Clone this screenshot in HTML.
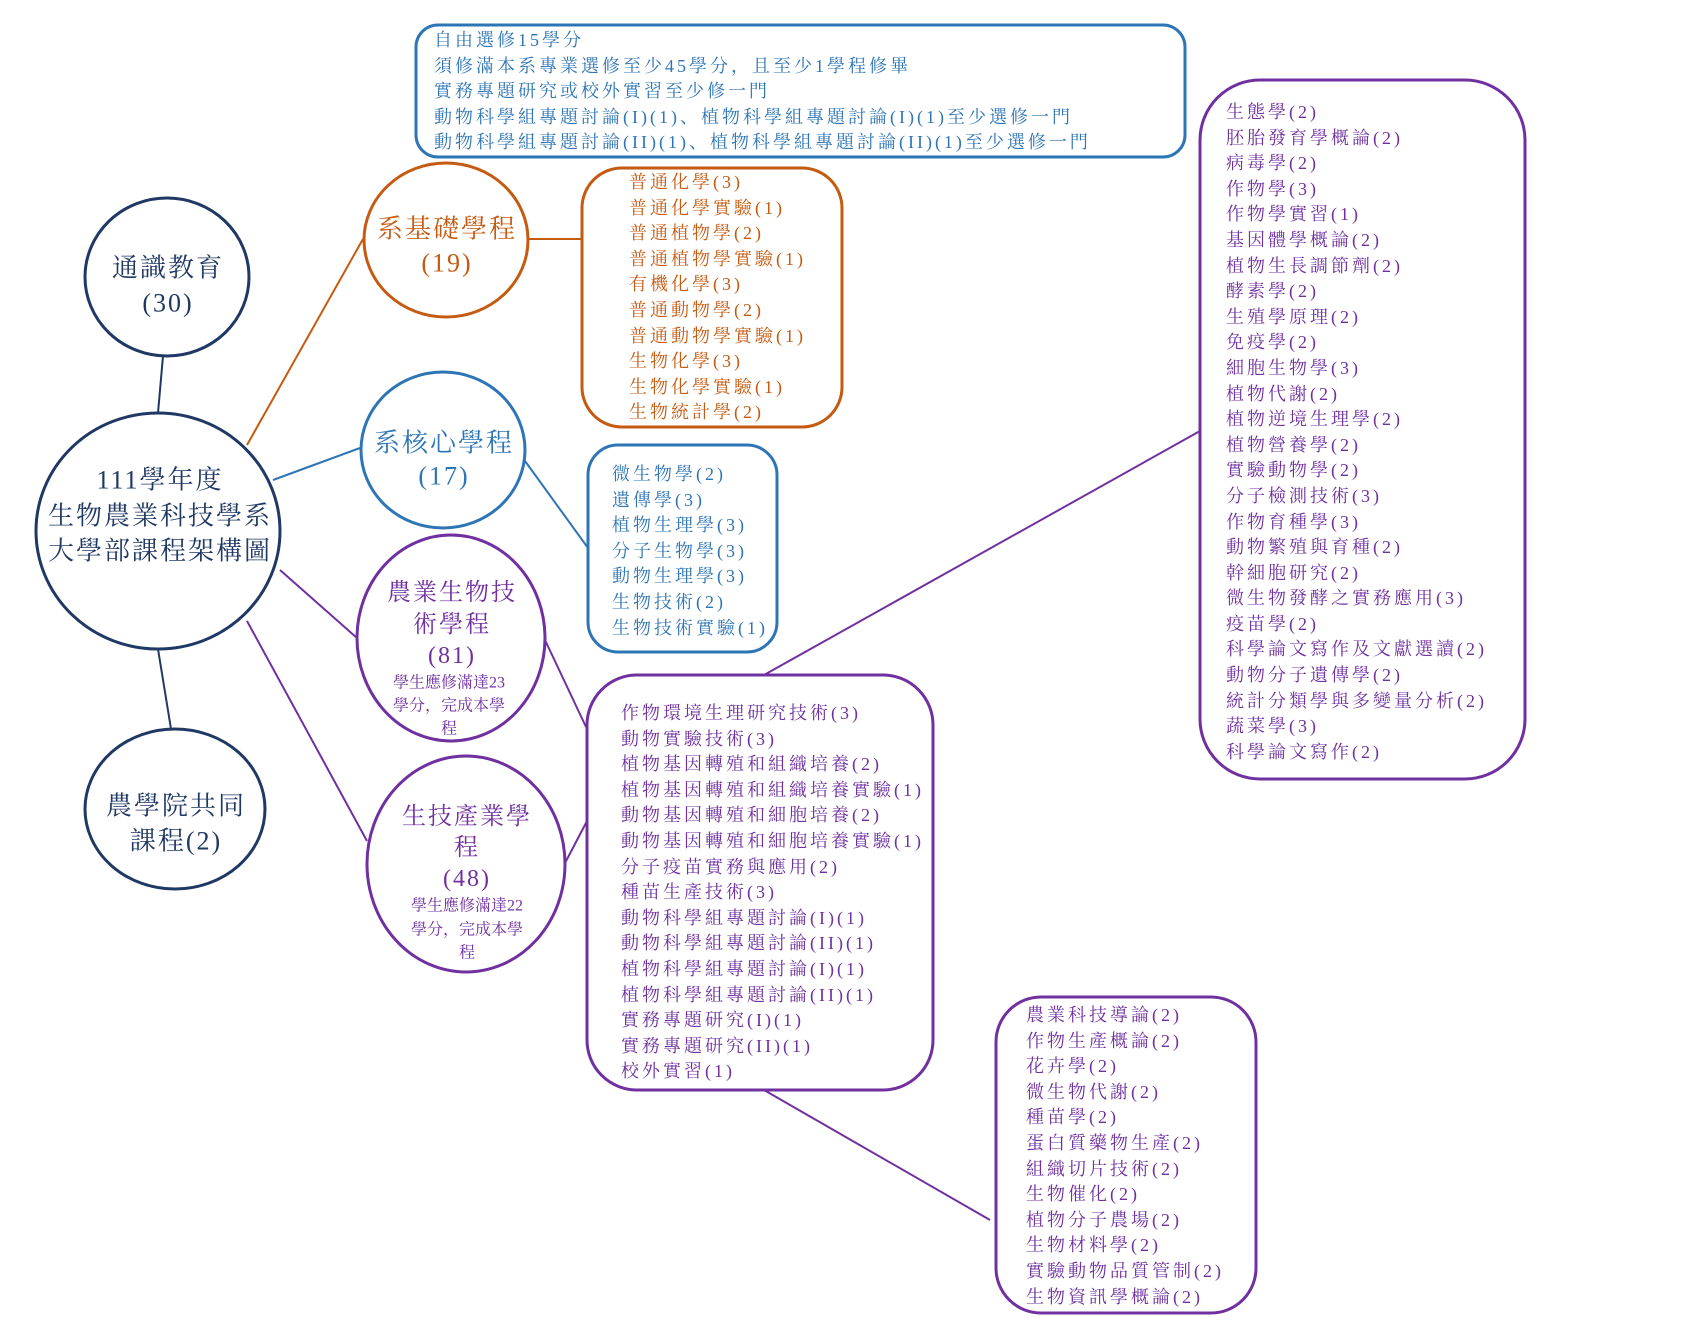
<!DOCTYPE html>
<html><head><meta charset="utf-8">
<style>
html,body{margin:0;padding:0;background:#fff;}
#w{position:relative;width:1701px;height:1325px;overflow:hidden;font-family:"Liberation Serif","Noto Serif CJK SC",serif;}
svg{position:absolute;left:0;top:0;}
.l{position:absolute;font-size:18px;line-height:25.6px;letter-spacing:3px;white-space:nowrap;}
.o{color:#c55a11}.b{color:#2e75b6}.p{color:#7030a0}
</style></head><body><div id="w">
<svg width="1701" height="1325" viewBox="0 0 1701 1325">
<g fill="none" stroke-width="2">
<line x1="163" y1="356" x2="158" y2="413" stroke="#1f3864"/>
<line x1="158" y1="649" x2="171" y2="729" stroke="#1f3864"/>
<line x1="247" y1="445" x2="363" y2="239" stroke="#c55a11"/>
<line x1="528" y1="239" x2="584" y2="239" stroke="#c55a11"/>
<line x1="273" y1="480" x2="360" y2="448" stroke="#2e75b6"/>
<line x1="525" y1="461" x2="588" y2="548" stroke="#2e75b6"/>
<line x1="280" y1="570" x2="357" y2="638" stroke="#7030a0"/>
<line x1="247" y1="621" x2="367" y2="841" stroke="#7030a0"/>
<line x1="545" y1="640" x2="587" y2="729" stroke="#7030a0"/>
<line x1="565" y1="863" x2="587" y2="821" stroke="#7030a0"/>
<line x1="764" y1="675" x2="1200" y2="431" stroke="#7030a0"/>
<line x1="764" y1="1090" x2="990" y2="1220" stroke="#7030a0"/>
</g>
<g fill="#fff" stroke-width="3">
<rect x="416" y="25" width="769" height="132" rx="22" stroke="#2e75b6"/>
<ellipse cx="167" cy="277" rx="82" ry="79" stroke="#1f3864"/>
<ellipse cx="158" cy="531" rx="122" ry="118" stroke="#1f3864"/>
<ellipse cx="175" cy="809" rx="90" ry="80" stroke="#1f3864"/>
<ellipse cx="446" cy="240" rx="82" ry="77" stroke="#c55a11"/>
<rect x="582" y="168" width="260" height="259" rx="40" stroke="#c55a11"/>
<ellipse cx="443" cy="450" rx="82" ry="78" stroke="#2e75b6"/>
<rect x="588" y="445" width="189" height="207" rx="30" stroke="#2e75b6"/>
<ellipse cx="451" cy="638" rx="94" ry="103" stroke="#7030a0"/>
<ellipse cx="466" cy="864" rx="99" ry="108" stroke="#7030a0"/>
<rect x="587" y="675" width="346" height="415" rx="50" stroke="#7030a0"/>
<rect x="1200" y="80" width="325" height="699" rx="60" stroke="#7030a0"/>
<rect x="996" y="997" width="260" height="316" rx="45" stroke="#7030a0"/>
</g>
<g font-family="Liberation Serif, Noto Serif CJK SC, serif" text-anchor="middle" dominant-baseline="central">
<g fill="#1f3864" font-size="26" letter-spacing="2">
<text x="168" y="268">通識教育</text><text x="168" y="303">(30)</text>
<text x="160" y="480">111學年度</text><text x="160" y="516">生物農業科技學系</text><text x="160" y="551">大學部課程架構圖</text>
<text x="176" y="806">農學院共同</text><text x="176" y="841">課程(2)</text>
</g>
<g fill="#c55a11" font-size="26" letter-spacing="2"><text x="447" y="229">系基礎學程</text><text x="447" y="263">(19)</text></g>
<g fill="#2e75b6" font-size="26" letter-spacing="2"><text x="444" y="443">系核心學程</text><text x="444" y="476">(17)</text></g>
<g fill="#7030a0" font-size="24" letter-spacing="2">
<text x="452" y="593">農業生物技</text><text x="452" y="625">術學程</text><text x="452" y="656">(81)</text>
<text x="467" y="817">生技產業學</text><text x="467" y="848">程</text><text x="467" y="879">(48)</text>
</g>
<g fill="#7030a0" font-size="16">
<text x="449" y="683">學生應修滿達23</text><text x="449" y="706">學分，完成本學</text><text x="449" y="729">程</text>
<text x="467" y="906">學生應修滿達22</text><text x="467" y="930">學分，完成本學</text><text x="467" y="953">程</text>
</g>
</g>
</svg>
<div class="l b" style="left:434px;top:28px">自由選修15學分<br>須修滿本系專業選修至少45學分，且至少1學程修畢<br>實務專題研究或校外實習至少修一門<br>動物科學組專題討論(I)(1)、植物科學組專題討論(I)(1)至少選修一門<br>動物科學組專題討論(II)(1)、植物科學組專題討論(II)(1)至少選修一門</div>
<div class="l o" style="left:629px;top:170px">普通化學(3)<br>普通化學實驗(1)<br>普通植物學(2)<br>普通植物學實驗(1)<br>有機化學(3)<br>普通動物學(2)<br>普通動物學實驗(1)<br>生物化學(3)<br>生物化學實驗(1)<br>生物統計學(2)</div>
<div class="l b" style="left:612px;top:462px">微生物學(2)<br>遺傳學(3)<br>植物生理學(3)<br>分子生物學(3)<br>動物生理學(3)<br>生物技術(2)<br>生物技術實驗(1)</div>
<div class="l p" style="left:621px;top:701px">作物環境生理研究技術(3)<br>動物實驗技術(3)<br>植物基因轉殖和組織培養(2)<br>植物基因轉殖和組織培養實驗(1)<br>動物基因轉殖和細胞培養(2)<br>動物基因轉殖和細胞培養實驗(1)<br>分子疫苗實務與應用(2)<br>種苗生產技術(3)<br>動物科學組專題討論(I)(1)<br>動物科學組專題討論(II)(1)<br>植物科學組專題討論(I)(1)<br>植物科學組專題討論(II)(1)<br>實務專題研究(I)(1)<br>實務專題研究(II)(1)<br>校外實習(1)</div>
<div class="l p" style="left:1226px;top:100px">生態學(2)<br>胚胎發育學概論(2)<br>病毒學(2)<br>作物學(3)<br>作物學實習(1)<br>基因體學概論(2)<br>植物生長調節劑(2)<br>酵素學(2)<br>生殖學原理(2)<br>免疫學(2)<br>細胞生物學(3)<br>植物代謝(2)<br>植物逆境生理學(2)<br>植物營養學(2)<br>實驗動物學(2)<br>分子檢測技術(3)<br>作物育種學(3)<br>動物繁殖與育種(2)<br>幹細胞研究(2)<br>微生物發酵之實務應用(3)<br>疫苗學(2)<br>科學論文寫作及文獻選讀(2)<br>動物分子遺傳學(2)<br>統計分類學與多變量分析(2)<br>蔬菜學(3)<br>科學論文寫作(2)</div>
<div class="l p" style="left:1026px;top:1003px">農業科技導論(2)<br>作物生產概論(2)<br>花卉學(2)<br>微生物代謝(2)<br>種苗學(2)<br>蛋白質藥物生產(2)<br>組織切片技術(2)<br>生物催化(2)<br>植物分子農場(2)<br>生物材料學(2)<br>實驗動物品質管制(2)<br>生物資訊學概論(2)</div>
</div></body></html>
